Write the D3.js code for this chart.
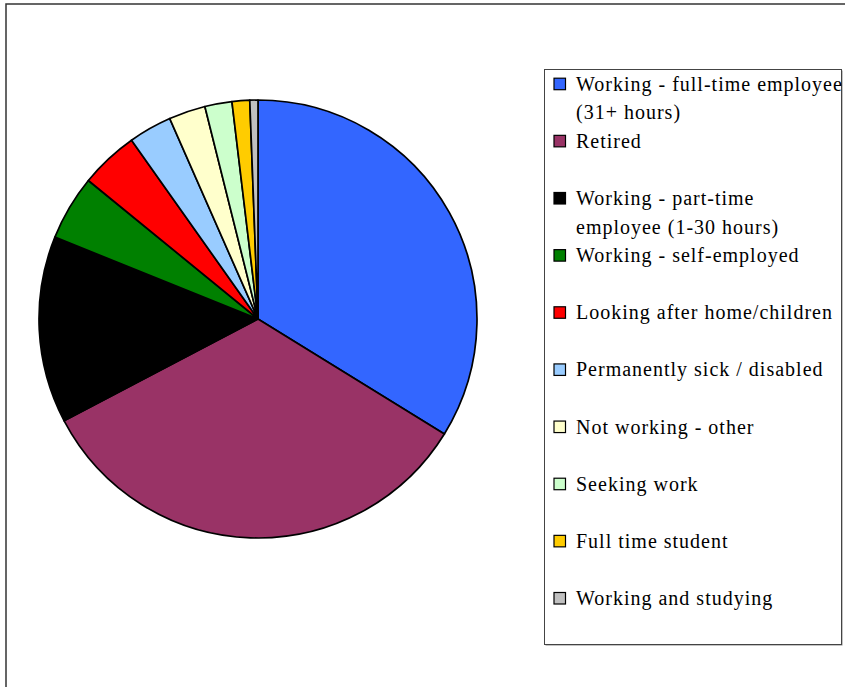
<!DOCTYPE html>
<html>
<head>
<meta charset="utf-8">
<script src="https://cdn.jsdelivr.net/npm/d3@7"></script>
<style>
  html, body { margin: 0; padding: 0; background: #fff; }
  svg { display: block; }
</style>
</head>
<body>
<svg id="chart" width="845" height="687"></svg>
<script>
// Economic activity shares (percent of respondents)
const categories = [
  "Working - full-time employee (31+ hours)",
  "Retired",
  "Working - part-time employee (1-30 hours)",
  "Working - self-employed",
  "Looking after home/children",
  "Permanently sick / disabled",
  "Not working - other",
  "Seeking work",
  "Full time student",
  "Working and studying"
];
const values = [33.8, 33.5, 13.8, 4.8, 4.3, 3.2, 2.7, 2.0, 1.3, 0.6];
const colors = ["#3366FF", "#993366", "#000000", "#008000", "#FF0000",
                "#99CCFF", "#FFFFCC", "#CCFFCC", "#FFCC00", "#C0C0C0"];
// Legend text, wrapped as it is drawn
const legendLines = [
  ["Working - full-time employee", "(31+ hours)"],
  ["Retired"],
  ["Working - part-time", "employee (1-30 hours)"],
  ["Working - self-employed"],
  ["Looking after home/children"],
  ["Permanently sick / disabled"],
  ["Not working - other"],
  ["Seeking work"],
  ["Full time student"],
  ["Working and studying"]
];

const svg = d3.select("#chart");

// Outer chart frame
svg.append("rect")
  .attr("x", 6).attr("y", 4)
  .attr("width", 900).attr("height", 800)
  .attr("fill", "none")
  .attr("stroke", "#333")
  .attr("stroke-width", 1.5);

// Pie
const cx = 258, cy = 319, r = 219;
const data = categories.map((c, i) => ({ name: c, value: values[i], color: colors[i] }));
const pie = d3.pie().value(d => d.value).sort(null);
const arc = d3.arc().innerRadius(0).outerRadius(r);

svg.append("g")
  .attr("transform", `translate(${cx},${cy})`)
  .selectAll("path")
  .data(pie(data))
  .join("path")
  .attr("d", arc)
  .attr("fill", d => d.data.color)
  .attr("stroke", "#000")
  .attr("stroke-width", 1.7)
  .attr("stroke-linejoin", "round");

// Legend
const lg = { x: 544.5, y: 69.5, w: 297, h: 575 };
svg.append("rect")
  .attr("x", lg.x + 1).attr("y", lg.y + 1)
  .attr("width", lg.w).attr("height", lg.h)
  .attr("fill", "#888");
svg.append("rect")
  .attr("x", lg.x).attr("y", lg.y)
  .attr("width", lg.w).attr("height", lg.h)
  .attr("fill", "#fff")
  .attr("stroke", "#444")
  .attr("stroke-width", 1);

const rowY = d3.scaleLinear().domain([0, 9]).range([90.7, 605]);
const lineGap = 28.7;

const item = svg.append("g")
  .selectAll("g")
  .data(data)
  .join("g")
  .attr("transform", (d, i) => `translate(0,${rowY(i)})`);

item.append("rect")
  .attr("x", 554).attr("y", -12.5)
  .attr("width", 11.5).attr("height", 11.5)
  .attr("fill", d => d.color)
  .attr("stroke", "#000")
  .attr("stroke-width", 1.2);

item.append("text")
  .attr("x", 576)
  .attr("font-family", "'Liberation Serif', 'Times New Roman', serif")
  .attr("font-size", 20)
  .attr("letter-spacing", 1)
  .attr("fill", "#000")
  .selectAll("tspan")
  .data((d, i) => legendLines[i])
  .join("tspan")
  .attr("x", 576)
  .attr("y", (t, j) => j * lineGap)
  .text(t => t);
</script>
</body>
</html>
